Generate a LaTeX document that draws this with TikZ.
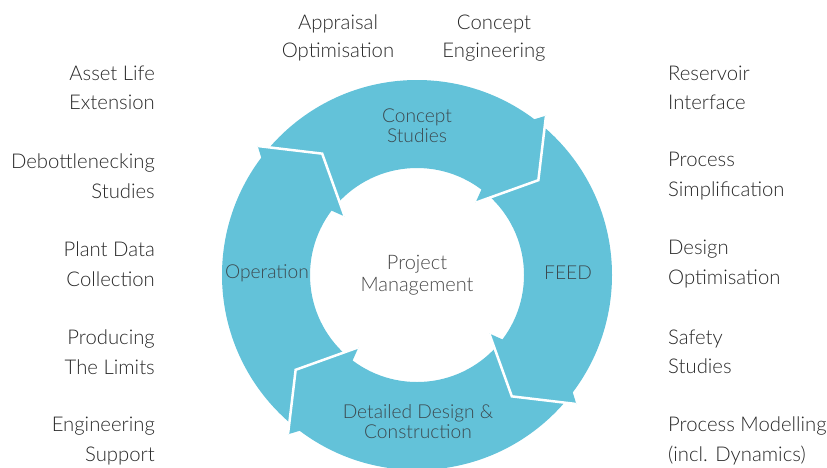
\documentclass[tikz,border=0pt]{standalone}
\usepackage{fontspec}
\setmainfont{Lato}[UprightFont=*-Light]
\usetikzlibrary{positioning}
\definecolor{ringblue}{RGB}{99,194,217}
\definecolor{labelgrey}{RGB}{40,40,40}
\definecolor{ringgrey}{RGB}{60,74,80}
\tikzstyle{leftlabel} = [align=right, anchor=east, inner sep=0pt, text=labelgrey, font=\fontsize{20.3}{29.5}\selectfont]
\tikzstyle{rightlabel} = [align=left, anchor=west, inner sep=0pt, text=labelgrey, font=\fontsize{20.3}{29.5}\selectfont]
\tikzstyle{toplabel} = [align=center, inner sep=0pt, text=labelgrey, font=\fontsize{20.3}{28}\selectfont]
\tikzstyle{stage} = [align=center, inner sep=0pt, text=ringgrey, font=\fontsize{19.2}{20}\selectfont]
\tikzstyle{hub} = [align=center, inner sep=0pt, text=labelgrey!85, font=\fontsize{20}{22}\selectfont]
\tikzstyle{head} = [fill=ringblue]
\tikzstyle{gap} = [draw=white, line width=2.5pt, line join=miter]

\begin{document}
\begin{tikzpicture}[x=1pt, y=1pt]

\useasboundingbox (0,0) rectangle (827,-467);

% ring with four arrow heads
\fill [ringblue, even odd rule] (417,-275) circle (195) (417,-275) circle (107);
\begin{scope}[shift={(417,-275)}]
\fill [head] (53:195) -- (51:205) -- (38:154) -- (51:93) -- (53:107) -- cycle;
\fill [head] (-37:195) -- (-39:205) -- (-52:154) -- (-39:93) -- (-37:107) -- cycle;
\fill [head] (-127:195) -- (-129:205) -- (-142:154) -- (-129:93) -- (-127:107) -- cycle;
\fill [head] (143:195) -- (141:205) -- (128:154) -- (141:93) -- (143:107) -- cycle;
\draw [gap] (51:205) -- (38:154) -- (51:93);
\draw [gap] (-39:205) -- (-52:154) -- (-39:93);
\draw [gap] (-129:205) -- (-142:154) -- (-129:93);
\draw [gap] (141:205) -- (128:154) -- (141:93);
\end{scope}

\node (0) [hub] at (417,-275) {Project\\Management};
\node (1) [stage] at (417,-126) {Concept\\Studies};
\node (2) [stage] at (568,-273) {FEED};
\node (3) [stage] at (418,-422) {Detailed Design \&\\Construction};
\node (4) [stage] at (267,-273) {Operation};

\node (5) [toplabel] at (338,-38) {Appraisal\\Optimisation};
\node (6) [toplabel] at (494,-38) {Concept\\Engineering};

\node (7) [leftlabel] at (155,-88) {Asset Life\\Extension};
\node (8) [leftlabel] at (155,-176) {Debottlenecking\\Studies};
\node (9) [leftlabel] at (155,-264) {Plant Data\\Collection};
\node (10) [leftlabel] at (155,-352) {Producing\\The Limits};
\node (11) [leftlabel] at (155,-441) {Engineering\\Support};

\node (12) [rightlabel] at (668,-88) {Reservoir\\Interface};
\node (13) [rightlabel] at (668,-176) {Process\\Simplification};
\node (14) [rightlabel] at (668,-264) {Design\\Optimisation};
\node (15) [rightlabel] at (668,-352) {Safety\\Studies};
\node (16) [rightlabel] at (668,-441) {Process Modelling\\(incl. Dynamics)};

\end{tikzpicture}
\end{document}
